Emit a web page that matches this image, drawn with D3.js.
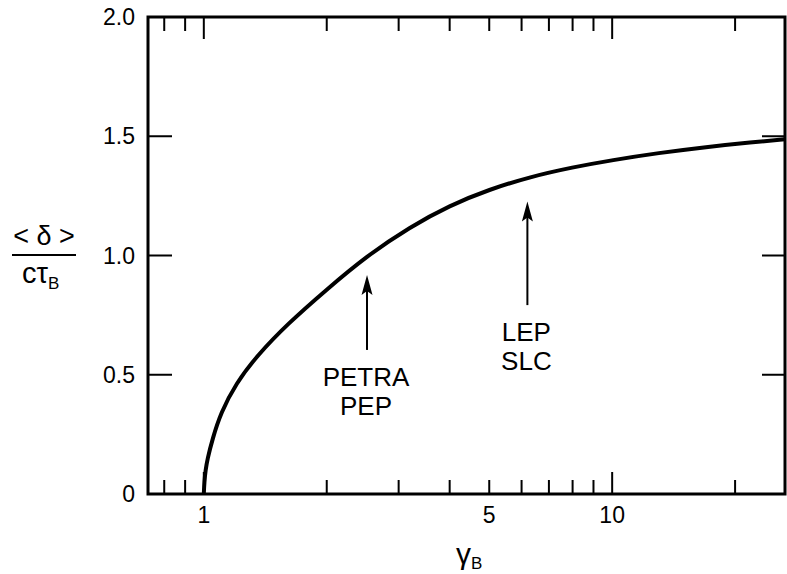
<!DOCTYPE html>
<html>
<head>
<meta charset="utf-8">
<script src="https://cdn.jsdelivr.net/npm/d3@7"></script>
<style>
  body { margin: 0; background: #fff; }
  svg { display: block; font-family: "Liberation Sans", Arial, sans-serif; }
</style>
</head>
<body>
<svg id="chart" width="787" height="574"></svg>
<script>
// curve: gamma_B vs <delta>/(c tau_B)
var gammaB = [1, 1.003, 1.01, 1.02, 1.05, 1.1, 1.2, 1.35, 1.6, 2.0, 2.5, 3.2, 4, 5, 6.3, 8, 10, 13, 17, 22, 26.5];
var delta  = [0, 0.05, 0.1, 0.145, 0.23, 0.34, 0.465, 0.58, 0.712, 0.858, 0.997, 1.12, 1.21, 1.277, 1.33, 1.37, 1.40, 1.43, 1.455, 1.475, 1.487];

var xMajor = [1, 10];
var xMinor = [0.8, 0.9, 2, 3, 4, 5, 6, 7, 8, 9, 20];
var xLabels = [1, 5, 10];
var yTicks = [0, 0.5, 1.0, 1.5, 2.0];

// machines marked with arrows
var machines = [["PETRA", "PEP"], ["LEP", "SLC"]];
var machineGamma = [2.51, 6.2];
var arrowTip = [0.918, 1.226];
var arrowTail = [0.604, 0.792];

(function() {
    var svg = d3.select("#chart");
    var mLeft = 148, mRight = 785, mTop = 17, mBottom = 494;

    var x = d3.scaleLog().domain([0.73, 26.5]).range([mLeft, mRight]);
    var y = d3.scaleLinear().domain([0, 2]).range([mBottom, mTop]);

    // frame
    svg.append("rect")
        .attr("x", mLeft).attr("y", mTop)
        .attr("width", mRight - mLeft).attr("height", mBottom - mTop)
        .attr("fill", "none").attr("stroke", "#000").attr("stroke-width", 3);

    // inward ticks, top and bottom
    function xTicks(vals, len) {
        var g = svg.append("g").attr("stroke", "#000").attr("stroke-width", 2);
        g.selectAll(".b").data(vals).enter().append("line")
            .attr("x1", function(d) { return x(d); }).attr("x2", function(d) { return x(d); })
            .attr("y1", mBottom).attr("y2", mBottom - len);
        g.selectAll(".t").data(vals).enter().append("line")
            .attr("x1", function(d) { return x(d); }).attr("x2", function(d) { return x(d); })
            .attr("y1", mTop).attr("y2", mTop + len);
    }
    xTicks(xMinor, 14);
    xTicks(xMajor, 22);

    // y ticks left and right
    var yt = svg.append("g").attr("stroke", "#000").attr("stroke-width", 2);
    yt.selectAll(".l").data(yTicks.slice(1, 4)).enter().append("line")
        .attr("x1", mLeft).attr("x2", mLeft + 24)
        .attr("y1", function(d) { return y(d); }).attr("y2", function(d) { return y(d); });
    yt.selectAll(".r").data(yTicks.slice(1, 4)).enter().append("line")
        .attr("x1", mRight).attr("x2", mRight - 23)
        .attr("y1", function(d) { return y(d); }).attr("y2", function(d) { return y(d); });

    // tick labels
    svg.append("g").selectAll("text").data(xLabels).enter().append("text")
        .attr("x", function(d) { return x(d); })
        .attr("y", 523)
        .attr("text-anchor", "middle")
        .attr("font-size", 23)
        .text(function(d) { return d; });

    svg.append("g").selectAll("text").data(yTicks).enter().append("text")
        .attr("x", 135)
        .attr("y", function(d) { return y(d) + 8; })
        .attr("text-anchor", "end")
        .attr("font-size", 23)
        .text(function(d) { return d === 0 ? "0" : d3.format(".1f")(d); });

    // axis titles
    var xt = svg.append("text").attr("x", 456).attr("y", 564).attr("font-size", 30);
    xt.append("tspan").text("\u03B3");
    xt.append("tspan").attr("font-size", 17).attr("dy", 5).text("B");

    svg.append("text").attr("x", 44).attr("y", 245)
        .attr("text-anchor", "middle").attr("font-size", 27)
        .text("< \u03B4 >");
    svg.append("line").attr("x1", 12).attr("x2", 76).attr("y1", 255).attr("y2", 255)
        .attr("stroke", "#000").attr("stroke-width", 2);
    var yl = svg.append("text").attr("x", 22).attr("y", 283).attr("font-size", 29);
    yl.append("tspan").text("c\u03C4");
    yl.append("tspan").attr("font-size", 17).attr("dy", 6).text("B");

    // curve
    var line = d3.line()
        .x(function(d, i) { return x(gammaB[i]); })
        .y(function(d) { return y(d); })
        .curve(d3.curveBasis);

    svg.append("path")
        .attr("d", line(delta))
        .attr("fill", "none")
        .attr("stroke", "#000")
        .attr("stroke-width", 4);

    // arrows + labels
    machines.forEach(function(m, i) {
        var gx = x(machineGamma[i]);
        var tip = y(arrowTip[i]);
        svg.append("line")
            .attr("x1", gx).attr("x2", gx)
            .attr("y1", y(arrowTail[i])).attr("y2", tip + 10)
            .attr("stroke", "#000").attr("stroke-width", 2);
        svg.append("path")
            .attr("d", "M" + (gx - 5.5) + "," + (tip + 20) + " L" + gx + "," + tip +
                  " L" + (gx + 5.5) + "," + (tip + 20) + " L" + gx + "," + (tip + 16) + " Z")
            .attr("fill", "#000");
        m.forEach(function(t, j) {
            svg.append("text")
                .attr("x", gx - 1)
                .attr("y", y(arrowTail[i]) + 36 + j * 29)
                .attr("text-anchor", "middle")
                .attr("font-size", 26)
                .text(t);
        });
    });
})();
</script>
</body>
</html>
